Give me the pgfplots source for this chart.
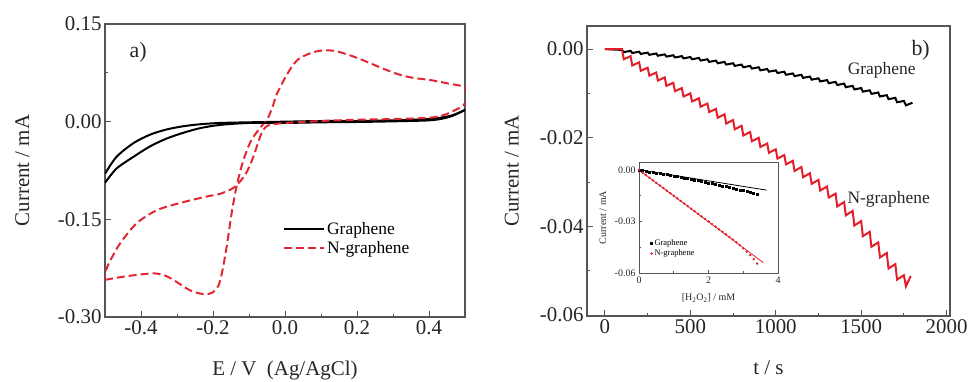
\documentclass[border=0pt]{standalone}
\usepackage{fontspec}
\setmainfont{Liberation Serif}
\usepackage{pgfplots}
\pgfplotsset{compat=1.18}
\definecolor{frame}{RGB}{85,85,85}
\definecolor{cvred}{RGB}{225,40,50}
\definecolor{itred}{RGB}{228,30,40}
\begin{document}
\begin{tikzpicture}
\useasboundingbox (0bp,0bp) rectangle (973bp,382bp);
\pgfplotsset{
  base/.style={scale only axis, anchor=south west,
    axis line style={frame, line width=1.2bp},
    tick style={frame, line width=0.9bp},
    tick align=inside, xtick pos=bottom, ytick pos=left,
    major tick length=6bp, minor tick length=3bp,
    /pgf/number format/assume math mode=true,
    /pgf/number format/set thousands separator={},
    scaled ticks=false,
    tick label style={font=\fontsize{21}{24}\selectfont, text=black!85},
    label style={font=\fontsize{21}{24}\selectfont, text=black!85}},
}
% ---------------- panel a ----------------
\begin{axis}[base, at={(105bp,65bp)}, width=360bp, height=293bp,
  xmin=-0.5, xmax=0.5, ymin=-0.3, ymax=0.15,
  xtick={-0.4,-0.2,0,0.2,0.4}, minor x tick num=1,
  ytick={-0.3,-0.15,0,0.15}, minor y tick num=1,
  xticklabel style={/pgf/number format/.cd, fixed, fixed zerofill, precision=1},
  yticklabel style={/pgf/number format/.cd, fixed, fixed zerofill, precision=2},
  xlabel={E / V\ \ (Ag/AgCl)}, ylabel={Current / mA},
  xlabel style={at={(axis description cs:0.5,-0.181)}, anchor=center},
  ylabel style={at={(axis description cs:-0.23,0.5)}, anchor=center},
  legend style={draw=none, fill=none, font=\fontsize{17.5}{20}\selectfont, at={(0.486,0.268)}, anchor=west, row sep=1bp},
  legend cell align=left,
  legend image code/.code={\draw[#1] (0bp,0bp) -- (40bp,0bp);},
]
\addplot[black, line width=2bp, smooth] coordinates {
(-0.5,-0.080) (-0.468,-0.054) (-0.421,-0.033) (-0.375,-0.020) (-0.329,-0.012) (-0.282,-0.007) (-0.236,-0.004) (-0.181,-0.002) (-0.1,-0.001) (0,0) (0.1,0.001) (0.2,0.001) (0.3,0.002) (0.36,0.003) (0.4,0.004) (0.43,0.006) (0.46,0.009) (0.48,0.013) (0.5,0.018)};
\addlegendentry{Graphene}
\addplot[cvred, line width=2bp, dash pattern=on 8bp off 4bp, smooth] coordinates {
(-0.5,-0.243) (-0.46,-0.239) (-0.421,-0.236) (-0.366,-0.233) (-0.335,-0.236) (-0.310,-0.243) (-0.285,-0.252) (-0.264,-0.259) (-0.236,-0.264) (-0.218,-0.265) (-0.2,-0.262) (-0.185,-0.252) (-0.175,-0.232) (-0.162,-0.192) (-0.148,-0.140) (-0.134,-0.098) (-0.116,-0.060) (-0.095,-0.030) (-0.07,-0.010) (-0.05,0.003) (-0.035,0.022) (-0.023,0.042) (0.0,0.067) (0.02,0.085) (0.042,0.098) (0.088,0.108) (0.134,0.109) (0.18,0.102) (0.227,0.092) (0.27,0.082) (0.319,0.072) (0.36,0.067) (0.403,0.064) (0.45,0.059) (0.5,0.054)};
\addlegendentry{N-graphene}
\addplot[black, line width=2bp, smooth, forget plot] coordinates {
(0.5,0.018) (0.47,0.010) (0.44,0.005) (0.4,0.002) (0.3,0.0005) (0.2,-0.0005) (0.1,-0.001) (0,-0.002) (-0.1,-0.002) (-0.181,-0.005) (-0.236,-0.010) (-0.282,-0.017) (-0.329,-0.026) (-0.375,-0.038) (-0.421,-0.054) (-0.468,-0.072) (-0.5,-0.094)};
\addplot[cvred, line width=2bp, dash pattern=on 8bp off 4bp, smooth, forget plot] coordinates {
(0.5,0.054) (0.5,0.028) (0.47,0.017) (0.44,0.010) (0.4,0.006) (0.3,0.004) (0.2,0.003) (0.1,0.001) (0.0,-0.002) (-0.032,-0.004) (-0.048,-0.006) (-0.058,-0.011) (-0.069,-0.023) (-0.088,-0.054) (-0.105,-0.076) (-0.122,-0.090) (-0.144,-0.102) (-0.181,-0.111) (-0.218,-0.115) (-0.292,-0.125) (-0.356,-0.136) (-0.412,-0.156) (-0.458,-0.187) (-0.485,-0.213) (-0.5,-0.232) (-0.5,-0.243)};
\node[font=\fontsize{22}{24}\selectfont, text=black!85] at (axis cs:-0.408,0.107) {a)};
\end{axis}
% ---------------- panel b ----------------
\begin{axis}[base, at={(587bp,66bp)}, width=363bp, height=290bp,
  xmin=-105, xmax=2020, ymin=-0.0602, ymax=0.0052,
  xtick={0,500,1000,1500,2000}, minor x tick num=1,
  ytick={-0.06,-0.04,-0.02,0}, minor y tick num=1,
  yticklabel style={/pgf/number format/.cd, fixed, fixed zerofill, precision=2},
  xlabel={t / s}, ylabel={Current / mA},
  xlabel style={at={(axis description cs:0.5,-0.179)}, anchor=center},
  ylabel style={at={(axis description cs:-0.207,0.5)}, anchor=center},
]
\addplot[black, line width=2bp] coordinates {
(0,0) (100,-0.0002) (110,-0.0007) (150,-0.0004) (160,-0.0009) (200,-0.0006) (210,-0.0011) (250,-0.0008) (260,-0.0013) (300,-0.0010) (310,-0.0015) (350,-0.0012) (360,-0.0017) (400,-0.0014) (410,-0.0019) (450,-0.0016) (460,-0.0021) (500,-0.0018) (510,-0.0023) (550,-0.0020) (560,-0.0026) (600,-0.0023) (610,-0.0029) (650,-0.0026) (660,-0.0032) (700,-0.0029) (710,-0.0035) (750,-0.0032) (760,-0.0038) (800,-0.0035) (810,-0.0041) (850,-0.0038) (860,-0.0044) (900,-0.0041) (910,-0.0048) (950,-0.0045) (960,-0.0051) (1000,-0.0048) (1010,-0.0054) (1050,-0.0051) (1060,-0.0058) (1100,-0.0055) (1110,-0.0061) (1150,-0.0058) (1160,-0.0065) (1200,-0.0062) (1210,-0.0069) (1250,-0.0066) (1260,-0.0073) (1300,-0.0070) (1310,-0.0077) (1350,-0.0074) (1360,-0.0081) (1400,-0.0078) (1410,-0.0086) (1450,-0.0083) (1460,-0.0091) (1500,-0.0088) (1510,-0.0096) (1550,-0.0093) (1560,-0.0101) (1600,-0.0098) (1610,-0.0107) (1650,-0.0104) (1660,-0.0113) (1700,-0.0110) (1710,-0.0120) (1750,-0.0117) (1762,-0.0127) (1800,-0.0121)};
\addplot[itred, line width=2bp] coordinates {
(0,0) (100,0) (110,-0.0023) (150,-0.0016) (160,-0.0037) (200,-0.0030) (210,-0.0049) (250,-0.0042) (260,-0.0060) (300,-0.0053) (310,-0.0071) (350,-0.0064) (360,-0.0083) (400,-0.0076) (410,-0.0095) (450,-0.0088) (460,-0.0107) (500,-0.0100) (510,-0.0118) (550,-0.0111) (560,-0.0130) (600,-0.0123) (610,-0.0142) (650,-0.0135) (660,-0.0155) (700,-0.0147) (710,-0.0168) (750,-0.0160) (760,-0.0181) (800,-0.0173) (810,-0.0195) (850,-0.0187) (860,-0.0208) (900,-0.0200) (910,-0.0221) (950,-0.0213) (960,-0.0234) (1000,-0.0226) (1010,-0.0247) (1050,-0.0239) (1060,-0.0260) (1100,-0.0252) (1110,-0.0275) (1150,-0.0266) (1160,-0.0289) (1200,-0.0280) (1210,-0.0304) (1250,-0.0295) (1260,-0.0319) (1300,-0.0310) (1310,-0.0335) (1350,-0.0326) (1360,-0.0355) (1400,-0.0345) (1410,-0.0375) (1450,-0.0365) (1460,-0.0398) (1500,-0.0388) (1510,-0.0422) (1550,-0.0412) (1560,-0.0446) (1600,-0.0436) (1610,-0.0470) (1650,-0.0460) (1660,-0.0495) (1700,-0.0485) (1710,-0.0520) (1750,-0.0510) (1762,-0.0535) (1790,-0.0512)};
\node[font=\fontsize{17.5}{20}\selectfont, text=black!85] at (axis cs:1620,-0.0049) {Graphene};
\node[font=\fontsize{17.5}{20}\selectfont, text=black!85] at (axis cs:1661,-0.0339) {N-graphene};
\node[font=\fontsize{22}{24}\selectfont, text=black!85] at (axis cs:1848,-0.0002) {b)};
\end{axis}
% ---------------- inset ----------------
\begin{axis}[base, at={(639bp,109bp)}, width=139bp, height=111bp,
  axis background/.style={fill=white},
  axis line style={frame, line width=0.9bp},
  tick style={frame, line width=0.6bp},
  major tick length=3bp, minor tick length=1.5bp,
  xmin=0, xmax=4, ymin=-0.06, ymax=0.0047,
  xtick={0,2,4}, minor x tick num=1,
  ytick={-0.06,-0.03,0}, minor y tick num=1,
  yticklabel style={/pgf/number format/.cd, fixed, fixed zerofill, precision=2},
  tick label style={font=\fontsize{10}{12}\selectfont},
  label style={font=\fontsize{10}{12}\selectfont},
  xlabel={[H\textsubscript{2}O\textsubscript{2}] / mM}, ylabel={Current / mA},
  xlabel style={at={(axis description cs:0.5,-0.225)}, anchor=center},
  ylabel style={at={(axis description cs:-0.26,0.5)}, anchor=center},
  legend style={draw=none, fill=none, font=\fontsize{8.5}{10}\selectfont, at={(0.06,0.22)}, anchor=west, row sep=-1.5bp},
  legend cell align=left,
]
\addplot[black, line width=0.8bp, forget plot] coordinates {(0,0.0002) (3.67,-0.0117)};
\addplot[itred, line width=0.8bp, forget plot] coordinates {(0,0) (3.58,-0.0540)};
\addplot[only marks, mark=square*, mark size=1bp, black] coordinates {
(0,0) (0.1,-0.00031) (0.2,-0.00063) (0.3,-0.00096) (0.4,-0.00129) (0.5,-0.00163) (0.6,-0.00197) (0.7,-0.00232) (0.8,-0.00267) (0.9,-0.00303) (1.0,-0.0034) (1.1,-0.00377) (1.2,-0.00415) (1.3,-0.00454) (1.4,-0.00493) (1.5,-0.00533) (1.6,-0.00573) (1.7,-0.00614) (1.8,-0.00655) (1.9,-0.00697) (2.0,-0.0074) (2.1,-0.00783) (2.2,-0.00827) (2.3,-0.00872) (2.4,-0.00917) (2.5,-0.00963) (2.6,-0.01009) (2.7,-0.01056) (2.8,-0.01103) (2.9,-0.01151) (3.0,-0.0120) (3.1,-0.01249) (3.2,-0.01299) (3.3,-0.0135) (3.4,-0.01401)};
\addlegendentry{Graphene}
\addplot[only marks, mark=*, mark size=1bp, itred] coordinates {
(0,0) (0.1,-0.0015) (0.2,-0.0030) (0.3,-0.0045) (0.4,-0.0060) (0.5,-0.0075) (0.6,-0.0090) (0.7,-0.0105) (0.8,-0.0120) (0.9,-0.0135) (1.0,-0.0150) (1.1,-0.0165) (1.2,-0.0180) (1.3,-0.0195) (1.4,-0.0210) (1.5,-0.0225) (1.6,-0.0240) (1.7,-0.0255) (1.8,-0.0270) (1.9,-0.0285) (2.0,-0.0300) (2.1,-0.0315) (2.2,-0.0330) (2.3,-0.0345) (2.4,-0.0360) (2.5,-0.0375) (2.6,-0.0390) (2.7,-0.0405) (2.8,-0.0421) (2.9,-0.0438) (3.0,-0.0456) (3.1,-0.0475) (3.2,-0.0496) (3.3,-0.0519) (3.4,-0.0545)};
\addlegendentry{N-graphene}
\end{axis}
\end{tikzpicture}
\end{document}
